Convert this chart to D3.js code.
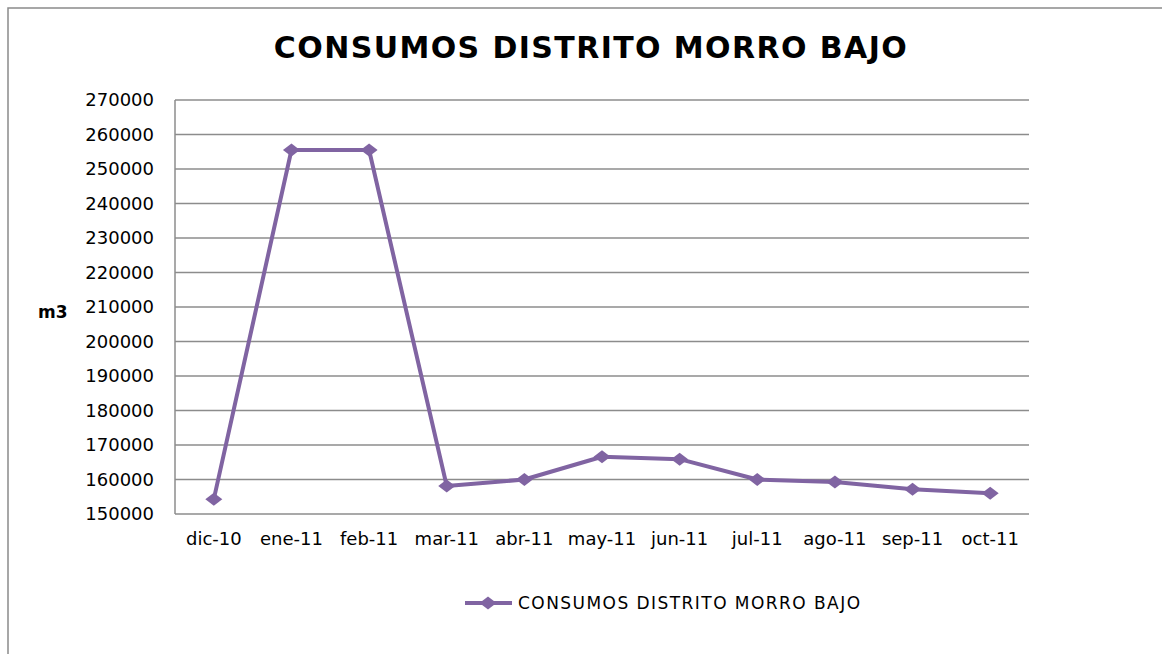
<!DOCTYPE html>
<html><head><meta charset="utf-8">
<script src="https://cdn.jsdelivr.net/npm/d3@7"></script>
<style>
html,body{margin:0;padding:0;background:#fff;}
svg{display:block;}
text{font-family:"DejaVu Sans",sans-serif;fill:#000;}
</style></head>
<body>
<script>
const categories = ["dic-10","ene-11","feb-11","mar-11","abr-11","may-11","jun-11","jul-11","ago-11","sep-11","oct-11"];
const seriesName = "CONSUMOS DISTRITO MORRO BAJO";
const values = [154300,255500,255500,158100,160000,166600,165900,160000,159300,157200,156000];
const yTicks = [150000,160000,170000,180000,190000,200000,210000,220000,230000,240000,250000,260000,270000];
const title = "CONSUMOS DISTRITO MORRO BAJO";
const yLabel = "m3";

const W = 1162, H = 654;
const plot = {left:175, top:100, right:1029, bottom:514};
const color = "#8064A2";
const grid = "#8c8c8c";

const svg = d3.select("body").append("svg").attr("width",W).attr("height",H);

// outer frame
svg.append("rect").attr("x",8).attr("y",8).attr("width",W+20).attr("height",H+20)
  .attr("fill","none").attr("stroke","#8a8a8a").attr("stroke-width",1.5);

const x = d3.scaleBand().domain(categories).range([plot.left,plot.right]);
const y = d3.scaleLinear().domain([150000,270000]).range([plot.bottom,plot.top]);

// gridlines
svg.append("g").selectAll("line").data(yTicks).join("line")
  .attr("x1",plot.left).attr("x2",plot.right)
  .attr("y1",d=>y(d)).attr("y2",d=>y(d))
  .attr("stroke",grid).attr("stroke-width",1.5);
svg.append("line").attr("x1",plot.left).attr("x2",plot.left)
  .attr("y1",plot.top).attr("y2",plot.bottom).attr("stroke",grid).attr("stroke-width",1.5);

// y axis labels
const yAxis = d3.axisLeft(y).tickValues(yTicks).tickSize(0).tickPadding(21).tickFormat(d3.format("d"));
const gy = svg.append("g").attr("transform",`translate(${plot.left},0)`).call(yAxis);
gy.select(".domain").remove();
gy.selectAll("text").style("font-size","18px").style("font-family","DejaVu Sans").attr("fill","#000");

// x axis labels
const xAxis = d3.axisBottom(x).tickSize(0).tickPadding(18);
const gx = svg.append("g").attr("transform",`translate(0,${plot.bottom})`).call(xAxis);
gx.select(".domain").remove();
gx.selectAll("text").style("font-size","18px").style("font-family","DejaVu Sans").attr("fill","#000");

// custom wide diamond marker
const wideDiamond = {
  draw(ctx, size) {
    const hw = 8.5, hh = 6.5;
    ctx.moveTo(0,-hh); ctx.lineTo(hw,0); ctx.lineTo(0,hh); ctx.lineTo(-hw,0); ctx.closePath();
  }
};
const diamond = d3.symbol().type(wideDiamond);

// line
const line = d3.line().x((d,i)=>x(categories[i])+x.bandwidth()/2).y(d=>y(d));
svg.append("path").datum(values).attr("d",line).attr("fill","none")
  .attr("stroke",color).attr("stroke-width",4).attr("stroke-linejoin","round");

svg.append("g").selectAll("path").data(values).join("path")
  .attr("transform",(d,i)=>`translate(${x(categories[i])+x.bandwidth()/2},${y(d)})`)
  .attr("d",diamond).attr("fill",color);

// title
svg.append("text").attr("x",591).attr("y",58).attr("text-anchor","middle")
  .style("font-size","30px").style("font-weight","bold").style("letter-spacing","1.4px").text(title);

// y label
svg.append("text").attr("x",38).attr("y",318).style("font-size","17px").style("font-weight","bold").text(yLabel);

// legend
const lg = svg.append("g");
lg.append("line").attr("x1",465).attr("x2",512).attr("y1",603).attr("y2",603)
  .attr("stroke",color).attr("stroke-width",4);
lg.append("path").attr("transform","translate(488,603)").attr("d",diamond).attr("fill",color);
lg.append("text").attr("x",518).attr("y",609).style("font-size","17px").style("letter-spacing","1.45px").text(seriesName);
</script>
</body></html>
